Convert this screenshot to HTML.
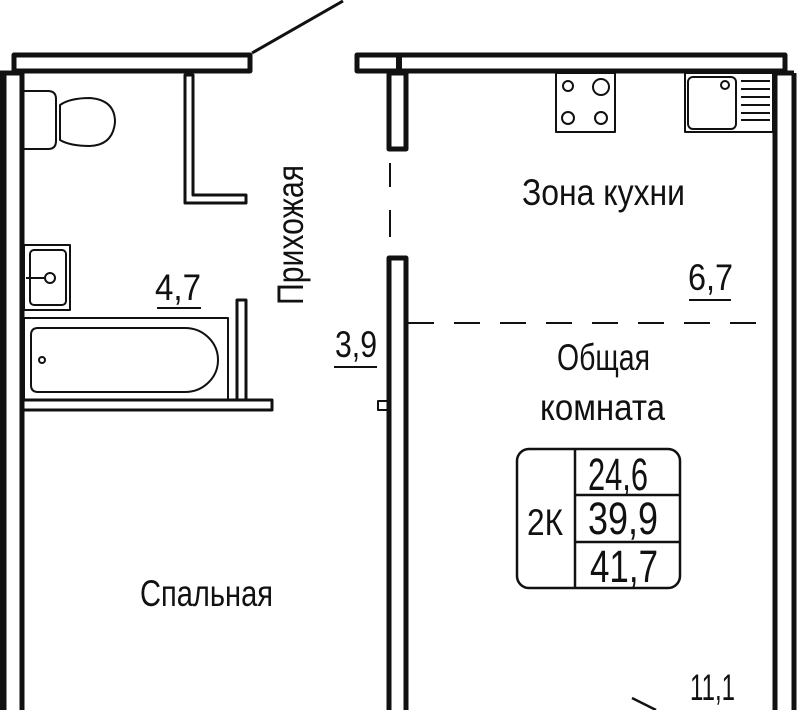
<!DOCTYPE html>
<html><head><meta charset="utf-8"><style>
html,body{margin:0;padding:0;background:#fff;}
svg{display:block}
text{font-family:"Liberation Sans",sans-serif;fill:#111;}
</style></head><body>
<svg width="799" height="710" viewBox="0 0 799 710" xmlns="http://www.w3.org/2000/svg">
<g fill="none" stroke="#111" stroke-linejoin="round">
<rect x="14" y="55" width="236" height="16" stroke-width="5"/>
<rect x="357" y="55" width="428" height="16" stroke-width="5"/>
<line x1="399" y1="55" x2="399" y2="73" stroke-width="6"/>
<line x1="252" y1="53" x2="343" y2="1" stroke-width="3"/>
<line x1="3" y1="73" x2="3" y2="710" stroke-width="7"/>
<line x1="22" y1="73" x2="22" y2="710" stroke-width="5"/>
<line x1="0" y1="73" x2="22" y2="73" stroke-width="5"/>
<line x1="775" y1="73" x2="775" y2="710" stroke-width="5"/>
<line x1="794" y1="73" x2="794" y2="710" stroke-width="5"/>
<line x1="775" y1="73" x2="794" y2="73" stroke-width="5"/>
<rect x="389" y="73" width="17" height="76" stroke-width="5"/>
<line x1="390" y1="163" x2="390" y2="187" stroke-width="2"/>
<line x1="390" y1="210" x2="390" y2="237" stroke-width="2"/>
<path d="M389 712 V258 H406 V712" stroke-width="5"/>
<rect x="378" y="401" width="10" height="9" stroke-width="2"/>
<line x1="408" y1="323" x2="773" y2="323" stroke-width="2" stroke-dasharray="26,20"/>
<path d="M185 75 V203 H246 V195 H193 V75 Z" stroke-width="3"/>
<path d="M237 400 V300 H246 V400 Z" stroke-width="3"/>
<path d="M24 410 H272 V400 H24" stroke-width="3"/>
<rect x="24" y="318" width="204" height="82" stroke-width="2"/>
<path d="M38 328 H185 A33 32 0 0 1 185 392 H38 Q31 392 31 385 V335 Q31 328 38 328 Z" stroke-width="2"/>
<circle cx="42" cy="360" r="3" stroke-width="2"/>
<rect x="24" y="245" width="46" height="65" stroke-width="2"/>
<rect x="30" y="250" width="36" height="55" rx="4" stroke-width="2"/>
<circle cx="50" cy="278" r="5" stroke-width="2"/>
<line x1="26" y1="278" x2="45" y2="278" stroke-width="2"/>
<path d="M24 91 H48 Q56 91 56 99 V141 Q56 149 48 149 H24" stroke-width="2"/>
<path d="M60 105 Q70 98 90 98 Q115 100 115 122 Q113 145 90 146 Q70 146 60 140 Z" stroke-width="2"/>
<rect x="556" y="73" width="59" height="59" stroke-width="2"/>
<circle cx="568" cy="86" r="5" stroke-width="2"/>
<circle cx="601" cy="87" r="8" stroke-width="2"/>
<circle cx="568" cy="118" r="6" stroke-width="2"/>
<circle cx="601" cy="118" r="6" stroke-width="2"/>
<rect x="685" y="73" width="88" height="59" stroke-width="2"/>
<rect x="688" y="77" width="48" height="52" rx="5" stroke-width="2"/>
<circle cx="725" cy="85" r="4" stroke-width="2"/>
<g stroke-width="2"><line x1="741" y1="81" x2="770" y2="81"/><line x1="741" y1="89" x2="770" y2="89"/><line x1="741" y1="97" x2="770" y2="97"/><line x1="741" y1="105" x2="770" y2="105"/><line x1="741" y1="113" x2="770" y2="113"/><line x1="741" y1="120" x2="770" y2="120"/></g>
<line x1="157" y1="308" x2="201" y2="308" stroke-width="2"/>
<line x1="334" y1="367" x2="377" y2="367" stroke-width="2"/>
<line x1="689" y1="300" x2="731" y2="300" stroke-width="2"/>
<rect x="517" y="449" width="163" height="139" rx="12" stroke-width="2.5"/>
<line x1="575" y1="449" x2="575" y2="588" stroke-width="2.5"/>
<line x1="575" y1="495" x2="680" y2="495" stroke-width="2.5"/>
<line x1="575" y1="542" x2="680" y2="542" stroke-width="2.5"/>
<line x1="632" y1="698" x2="656" y2="710" stroke-width="2.5"/>
</g>
<g font-size="37">
<text x="303" y="305" transform="rotate(-90 303 305)" textLength="140" lengthAdjust="spacingAndGlyphs">Прихожая</text>
<text x="155" y="300" textLength="46" lengthAdjust="spacingAndGlyphs">4,7</text>
<text x="335" y="357" textLength="42" lengthAdjust="spacingAndGlyphs">3,9</text>
<text x="688" y="290" textLength="45" lengthAdjust="spacingAndGlyphs">6,7</text>
<text x="522" y="205" textLength="163" lengthAdjust="spacingAndGlyphs">Зона кухни</text>
<text x="557" y="370" textLength="93" lengthAdjust="spacingAndGlyphs">Общая</text>
<text x="540" y="420" textLength="125" lengthAdjust="spacingAndGlyphs">комната</text>
<text x="140" y="606" textLength="133" lengthAdjust="spacingAndGlyphs">Спальная</text>
<text x="527" y="535" textLength="36" lengthAdjust="spacingAndGlyphs">2К</text>
<text x="588" y="490" font-size="45" textLength="60" lengthAdjust="spacingAndGlyphs">24,6</text>
<text x="588" y="534" font-size="45" textLength="70" lengthAdjust="spacingAndGlyphs">39,9</text>
<text x="590" y="582" font-size="45" textLength="68" lengthAdjust="spacingAndGlyphs">41,7</text>
<text x="690" y="700" textLength="45" lengthAdjust="spacingAndGlyphs">11,1</text>
</g>
</svg>
</body></html>
